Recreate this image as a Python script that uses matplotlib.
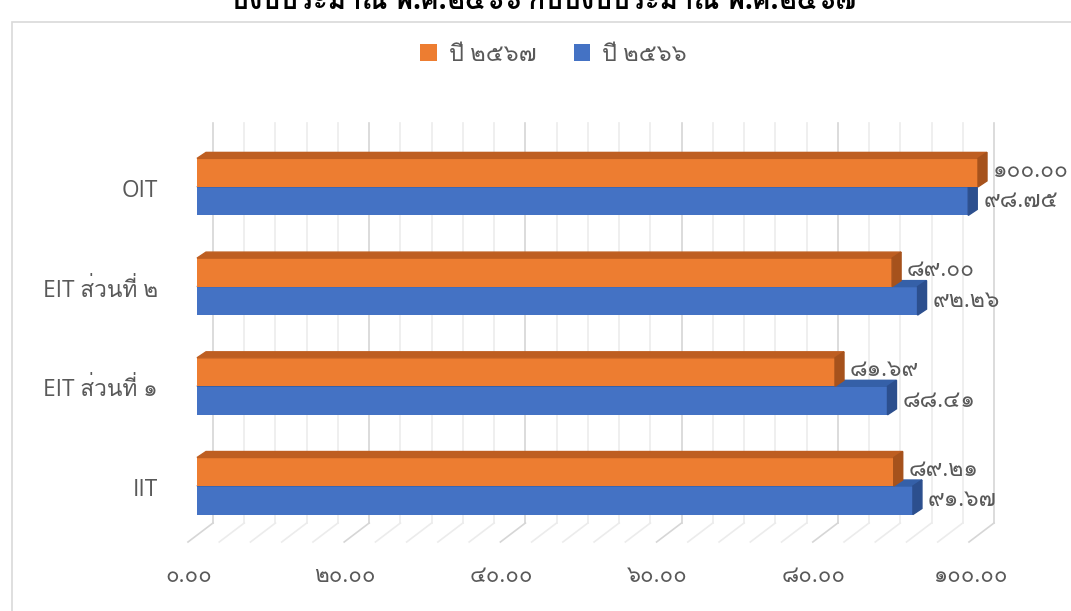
import matplotlib
matplotlib.use("Agg")
import matplotlib.pyplot as plt
from matplotlib import font_manager, ft2font
from matplotlib.patches import Polygon, Rectangle

# data (bottom -> top)
categories = ["IIT", "EIT ส่วนที่ ๑", "EIT ส่วนที่ ๒", "OIT"]
score_2567 = [89.21, 81.69, 89.00, 100.00]
score_2566 = [91.67, 88.41, 92.26, 98.75]
series_names = ["ปี ๒๕๖๗", "ปี ๒๕๖๖"]
x_ticks = [0, 20, 40, 60, 80, 100]
grid_step = 4
title = "ปีงบประมาณ พ.ศ.๒๕๖๖ กับปีงบประมาณ พ.ศ.๒๕๖๗"

ORANGE, ORANGE_TOP, ORANGE_SIDE = "#ED7D31", "#BE5E21", "#A6521C"
BLUE, BLUE_TOP, BLUE_SIDE = "#4472C4", "#3560A8", "#2C4F8E"
GRAY = "#595959"

THAI_DIGITS = str.maketrans("0123456789", "๐๑๒๓๔๕๖๗๘๙")


def thai_num(v):
    return f"{v:.2f}".translate(THAI_DIGITS)


def find_thai_font():
    found = []
    for f in font_manager.fontManager.ttflist:
        try:
            cm = ft2font.FT2Font(f.fname).get_charmap()
        except Exception:
            continue
        if 0x0E01 in cm and 0x0E51 in cm:
            found.append(f)
    if not found:
        return None
    found.sort(key=lambda f: (f.weight not in (400, "normal", "regular"), f.style != "normal"))
    return found[0].name


thai = find_thai_font()
FAMILY = ["Open Sans"] + ([thai] if thai else []) + ["DejaVu Sans"]
plt.rcParams["font.family"] = FAMILY

W, H = 1071, 611
fig = plt.figure(figsize=(W / 100, H / 100), dpi=100)
ax = fig.add_axes([0, 0, 1, 1])

# pixel scales of the fake 3D layout
PX_X = 7.81    # px per score unit
PX_Y = 99.7    # px per category
x0_px, y0_px = 197, 486
ax.set_xlim(-x0_px / PX_X, (W - x0_px) / PX_X)
ax.set_ylim((y0_px - H) / PX_Y, y0_px / PX_Y)
ax.axis("off")

dx, dy = 9 / PX_X, 6 / PX_Y           # bar depth
wall_dx = 16 / PX_X                    # back wall offset
wall_top, wall_bot = (y0_px - 123) / PX_Y, (y0_px - 523) / PX_Y
floor_dx, floor_y = -25 / PX_X, (y0_px - 542) / PX_Y
bar_h = 28.5 / PX_Y

# back wall gridlines + floor
for v in range(0, 101, grid_step):
    c = "#D6D6D6" if v % 20 == 0 else "#ECECEC"
    ax.plot([v + wall_dx, v + wall_dx], [wall_bot, wall_top], color=c, lw=1.2, zorder=1)
    ax.plot([v + wall_dx, v + wall_dx + floor_dx], [wall_bot, floor_y], color=c, lw=1.2, zorder=1)

for v in x_ticks:
    ax.text(v - 8 / PX_X, (y0_px - 577) / PX_Y, thai_num(v), ha="center", va="center",
            fontsize=16, color=GRAY)

handles = []
for i, (cat, o, b) in enumerate(zip(categories, score_2567, score_2566)):
    y = i
    # 2566 (lower, blue)
    hb = ax.barh(y - bar_h / 2, b, height=bar_h, color=BLUE, zorder=3)
    ax.add_patch(Polygon([(0, y), (b, y), (b + dx, y + dy), (dx, y + dy)],
                         closed=True, color=BLUE_TOP, zorder=3))
    ax.add_patch(Polygon([(b, y - bar_h), (b, y), (b + dx, y + dy), (b + dx, y - bar_h + dy)],
                         closed=True, color=BLUE_SIDE, zorder=3))
    # 2567 (upper, orange)
    ho = ax.barh(y + bar_h / 2, o, height=bar_h, color=ORANGE, zorder=4)
    t = y + bar_h
    ax.add_patch(Polygon([(0, t), (o, t), (o + dx, t + dy), (dx, t + dy)],
                         closed=True, color=ORANGE_TOP, zorder=4))
    ax.add_patch(Polygon([(o, y), (o, t), (o + dx, t + dy), (o + dx, y + dy)],
                         closed=True, color=ORANGE_SIDE, zorder=4))
    if i == 0:
        handles = [ho, hb]

    ax.text(o + 15 / PX_X, y + bar_h / 2 + 2 / PX_Y, thai_num(o), ha="left", va="center",
            fontsize=16.5, color=GRAY, zorder=5)
    ax.text(b + 15 / PX_X, y - bar_h / 2, thai_num(b), ha="left", va="center",
            fontsize=16.5, color=GRAY, zorder=5)
    ax.text(-39 / PX_X, y - 4 / PX_Y, cat, ha="right", va="center", fontsize=16.3, color=GRAY)

fig.legend(handles, series_names, loc="center", bbox_to_anchor=(0.517, 1 - 55 / H), ncol=2,
           frameon=False, handlelength=0.7, handleheight=0.7, handletextpad=0.5,
           columnspacing=1.6, prop=dict(family=FAMILY, size=17), labelcolor=GRAY)

# chart frame and clipped title
fig.add_artist(Rectangle((12 / W, -0.05), 1.1, 1.05 - 22 / H, transform=fig.transFigure,
                         fill=False, edgecolor="#D9D9D9", lw=1.2))
fig.text(0.508, 1 - 1 / H, title, ha="center", va="center", fontsize=20, weight="bold",
         color="black")

fig.savefig("out.png", dpi=100)
